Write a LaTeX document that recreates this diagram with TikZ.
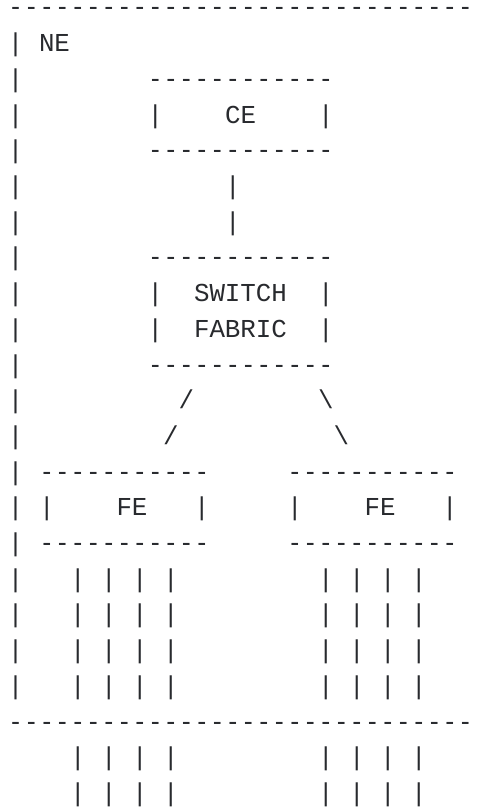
\documentclass[tikz,border=0pt]{standalone}
\usepackage{fontspec}
\setmonofont{Liberation Mono}
\newfontfamily\dashfont{DejaVu Sans Mono}
\definecolor{ink}{RGB}{40,42,46}
% a run of hyphens kept apart so they never join into dashes
\newcommand\dashrun[1]{{\dashfont\fontsize{25.75pt}{35.7pt}\selectfont\foreach\k in {1,...,#1}{-\kern0pt}}}
% one text cell on the character grid: name, column, row, text
\newcommand\cell[4]{\node[ch] (#1) at (#2,#3) {#4};}
\begin{document}
\begin{tikzpicture}[x=15.5pt,y=-35.7pt,
  ch/.style={inner sep=0pt, outer sep=0pt, anchor=base west, text=ink,
    font=\ttfamily\fontsize{25.83pt}{35.7pt}\selectfont}]
\useasboundingbox (-8pt,16pt) rectangle (470pt,-792pt);

% network element frame
\cell{netop}{0}{0}{\dashrun{30}}
\cell{ne}{2}{1}{NE}
\foreach \r in {1,...,19} { \node[ch] (wall\r) at (0,\r) {|}; }
\cell{netbottom}{0}{20}{\dashrun{30}}

% control element
\cell{ceT}{9}{2}{\dashrun{12}}
\cell{ceL}{9}{3}{|}
\cell{ce}{14}{3}{CE}
\cell{ceR}{20}{3}{|}
\cell{ceB}{9}{4}{\dashrun{12}}

% link from CE to the switch fabric
\cell{upA}{14}{5}{|}
\cell{upB}{14}{6}{|}

% switch fabric
\cell{sfT}{9}{7}{\dashrun{12}}
\cell{sfL1}{9}{8}{|}
\cell{sw}{12}{8}{SWITCH}
\cell{sfR1}{20}{8}{|}
\cell{sfL2}{9}{9}{|}
\cell{fab}{12}{9}{FABRIC}
\cell{sfR2}{20}{9}{|}
\cell{sfB}{9}{10}{\dashrun{12}}

% links to the forwarding elements
\cell{diagLa}{11}{11}{/}
\cell{diagLb}{10}{12}{/}
\cell{diagRa}{20}{11}{\textbackslash}
\cell{diagRb}{21}{12}{\textbackslash}

% forwarding element, left
\cell{feaT}{2}{13}{\dashrun{11}}
\cell{feaL}{2}{14}{|}
\cell{fea}{7}{14}{FE}
\cell{feaR}{12}{14}{|}
\cell{feaB}{2}{15}{\dashrun{11}}

% forwarding element, right
\cell{febT}{18}{13}{\dashrun{11}}
\cell{febL}{18}{14}{|}
\cell{feb}{23}{14}{FE}
\cell{febR}{28}{14}{|}
\cell{febB}{18}{15}{\dashrun{11}}

% ports running out through the frame
\foreach \r in {16,17,18,19,21,22} {
  \foreach \c in {4,6,8,10,20,22,24,26} {
    \node[ch] (port\r-\c) at (\c,\r) {|};
  }
}
\end{tikzpicture}
\end{document}
